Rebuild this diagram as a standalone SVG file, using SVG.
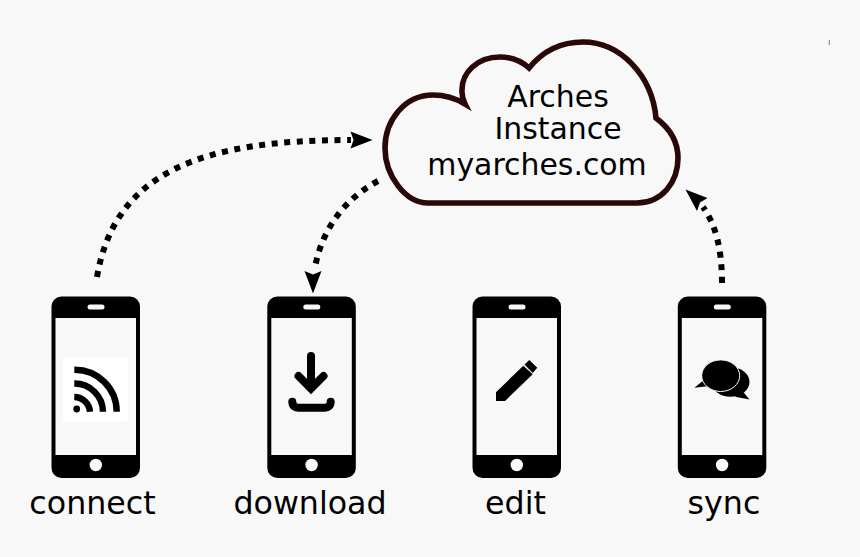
<svg xmlns="http://www.w3.org/2000/svg" width="860" height="557" viewBox="0 0 860 557">
<style>
text{font-family:"DejaVu Sans",sans-serif;fill:#000;text-anchor:middle}
.lbl{font-size:31.7px}
.cl{font-size:29.9px}
.dot{fill:none;stroke:#000;stroke-width:6;stroke-dasharray:6 6.6}
.ico{fill:none;stroke:#000}
</style>
<defs>
<g id="phone">
<rect x="0" y="0" width="88.5" height="181.5" rx="10" fill="#000"/>
<rect x="4" y="21.5" width="80.5" height="137" fill="#f8f8f8"/>
<rect x="36" y="8" width="17" height="5" rx="2.5" fill="#f8f8f8"/>
<circle cx="44.3" cy="168.5" r="6.2" fill="#f8f8f8"/>
</g>
</defs>
<rect width="860" height="557" fill="#f8f8f8"/>
<g id="cloud">
<path d="M428 203H637C662 203 678 182 678 158C678 140 668 127 656 118C652 75 620 42 583 42C560 42 542 52 529 68C520 60 510 57 500 57C478 57 461 72 462 92C462 96 463 100 465 104C455 98 445 95 433 95C405 95 385 120 385 148C385 175 405 203 428 203Z" fill="#f8f8f8" stroke="#2a0808" stroke-width="5.6"/>
<text class="cl" x="558" y="107">Arches</text>
<text class="cl" x="558" y="139">Instance</text>
<text class="cl" x="537" y="175">myarches.com</text>
</g>
<g id="connectors">
<path class="dot" d="M97 277C115 170 205 140 351 140"/>
<polygon points="372.5,140 350.5,131.5 353.5,140 350.5,148.5"/>
<path class="dot" d="M378 181C348 197 322 226 314.5 270"/>
<polygon points="313,293.5 304.5,271 313,274.5 321.5,271"/>
<path class="dot" d="M722 283C722 250 716 225 703 207"/>
<polygon points="685.5,189.5 707.5,198 700,202.5 697,211"/>
</g>
<g id="connect">
<use href="#phone" x="51.5" y="296.5"/>
<rect x="62.7" y="357.3" width="65" height="64.4" fill="#fff"/>
<circle cx="76.7" cy="409" r="3.4"/>
<path class="ico" stroke-width="6.4" d="M74.3 397A16 16 0 0 1 90 411.7M74.3 383.5A28.5 28.5 0 0 1 103 411.7M74.3 369.7A42 42 0 0 1 116.7 411.7"/>
<text class="lbl" x="92.5" y="514">connect</text>
</g>
<g id="download">
<use href="#phone" x="267.3" y="296.5"/>
<path class="ico" stroke-width="8" stroke-linecap="round" d="M311 356V386"/>
<path class="ico" stroke-width="8" stroke-linecap="round" d="M298.5 376L311 388.5L323.5 376"/>
<path class="ico" stroke-width="8" stroke-linecap="round" d="M292.3 401.7C292.3 406 295 407.7 298 407.7H325C328 407.7 330.7 406 330.7 401.7"/>
<text class="lbl" x="310" y="514">download</text>
</g>
<g id="edit">
<use href="#phone" x="472.5" y="296.5"/>
<polygon points="496,401 496,392.3 523.3,365.7 532.7,374.3 505,401"/>
<polygon points="524.5,364.5 529.3,360 537.3,367.7 532.7,373"/>
<text class="lbl" x="515.5" y="514">edit</text>
</g>
<g id="sync">
<use href="#phone" x="677.8" y="296.5"/>
<ellipse cx="730.5" cy="382" rx="19" ry="14.8"/>
<polygon points="735,396.7 749.5,399.5 743.3,392"/>
<polygon points="704,380 694.3,387.7 710,386"/>
<ellipse cx="720.7" cy="375.7" rx="19" ry="15.8" stroke="#f8f8f8" stroke-width="1"/>
<text class="lbl" x="724" y="514">sync</text>
</g>
<path id="speck" d="M829.3 40V45" stroke="#777" stroke-width="1"/>
</svg>
